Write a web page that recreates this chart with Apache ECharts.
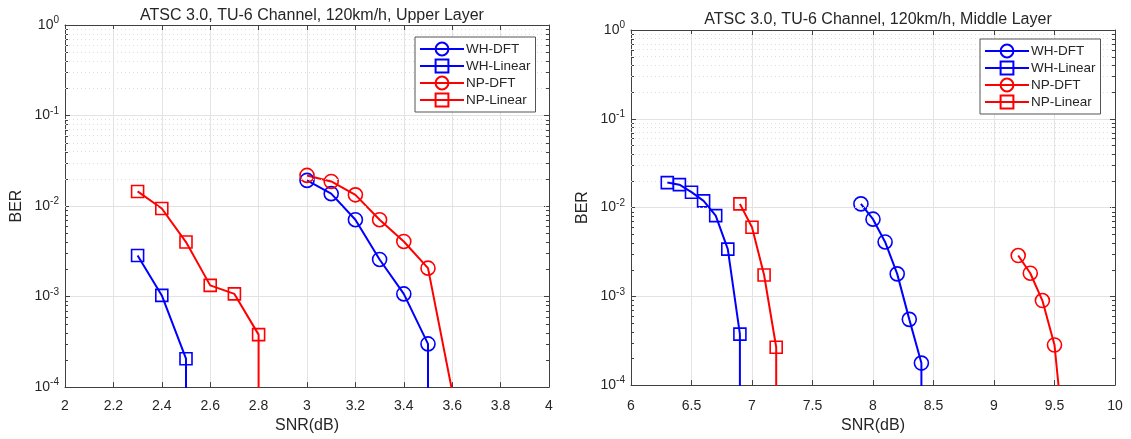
<!DOCTYPE html>
<html>
<head>
<meta charset="utf-8">
<script src="https://cdn.jsdelivr.net/npm/echarts@6/dist/echarts.min.js"></script>
<style>
html,body{margin:0;padding:0;background:#fff;}
#chart{width:1131px;height:439px;}
</style>
</head>
<body>
<div id="chart"></div>
<script>
// ---------- data (BER of 0 = no errors; drawn as a drop off the bottom of the log axis) ----------
const seriesNames = ['WH-DFT', 'WH-Linear', 'NP-DFT', 'NP-Linear'];
const titles = ['ATSC 3.0, TU-6 Channel, 120km/h, Upper Layer', 'ATSC 3.0, TU-6 Channel, 120km/h, Middle Layer'];

// Upper layer
const upperWHDFT_SNR = [3.0, 3.1, 3.2, 3.3, 3.4, 3.5, 3.5];
const upperWHDFT_BER = [0.0192, 0.0137, 0.00706, 0.00257, 0.00107, 0.0003, 0];
const upperWHLin_SNR = [2.3, 2.4, 2.5, 2.5];
const upperWHLin_BER = [0.00284, 0.00103, 0.000206, 0];
const upperNPDFT_SNR = [3.0, 3.1, 3.2, 3.3, 3.4, 3.5, 3.6];
const upperNPDFT_BER = [0.0218, 0.0187, 0.0133, 0.00706, 0.00406, 0.00206, 0.00009];
const upperNPLin_SNR = [2.3, 2.4, 2.5, 2.6, 2.7, 2.8, 2.8];
const upperNPLin_BER = [0.0145, 0.0094, 0.0040, 0.00133, 0.00107, 0.00038, 0];

// Middle layer
const midWHDFT_SNR = [7.9, 8.0, 8.1, 8.2, 8.3, 8.4, 8.4];
const midWHDFT_BER = [0.011, 0.0074, 0.0041, 0.00179, 0.00055, 0.000177, 0];
const midWHLin_SNR = [6.3, 6.4, 6.5, 6.6, 6.7, 6.8, 6.9, 6.9];
const midWHLin_BER = [0.0191, 0.0181, 0.0149, 0.0119, 0.0081, 0.0034, 0.000375, 0];
const midNPDFT_SNR = [9.2, 9.3, 9.4, 9.5, 9.6];
const midNPDFT_BER = [0.00288, 0.00182, 0.000896, 0.000283, 0.000012];
const midNPLin_SNR = [6.9, 7.0, 7.1, 7.2, 7.2];
const midNPLin_BER = [0.011, 0.006, 0.00174, 0.000267, 0];

// axes
const yMin = 1e-4, yMax = 1;
const upperX = {min: 2, max: 4, interval: 0.2};
const midX = {min: 6, max: 10, interval: 0.5};

// ---------- build ----------
const FONT = '"Liberation Sans", Arial, Helvetica, sans-serif';
const TXT = '#262626';
const AXC = '#404040';
const BLUE = '#0000ff', RED = '#ff0000';
const FLOOR = 1e-9;

function pts(xs, ys) {
  return xs.map((x, i) => {
    const y = ys[i] > 0 ? ys[i] : FLOOR;
    return y < yMin ? {value: [x, y], symbol: 'none'} : {value: [x, y]};
  });
}

// minor log grid values (2..9 per decade)
const minorVals = [];
for (let d = -4; d < 0; d++) for (let m = 2; m <= 9; m++) minorVals.push(m * Math.pow(10, d));

function mkSeries(name, xs, ys, color, sym, gi) {
  return {
    name: name, type: 'line', xAxisIndex: gi * 2, yAxisIndex: gi * 2,
    data: pts(xs, ys), symbol: sym, symbolSize: sym === 'circle' ? 14 : 12,
    clip: true, animation: false,
    lineStyle: {color: color, width: 2},
    itemStyle: {color: 'rgba(255,255,255,0)', borderColor: color, borderWidth: 1.6},
    emphasis: {disabled: true}, z: 3
  };
}

const grids = [
  {left: 65, top: 25, width: 484, height: 363},
  {left: 631, top: 30, width: 484, height: 360}
];
const xRanges = [upperX, midX];

function supLabel(v) {
  const e = Math.round(Math.log10(v));
  return '10{sup|' + e + '}';
}
const rich = {sup: {fontSize: 10, fontFamily: FONT, color: TXT, padding: [0, 0, 9, 0]}};

const xAxes = [], yAxes = [];
xRanges.forEach((xr, gi) => {
  xAxes.push({
    type: 'value', gridIndex: gi, position: 'bottom', min: xr.min, max: xr.max, interval: xr.interval,
    name: 'SNR(dB)', nameLocation: 'middle', nameGap: gi === 0 ? 27 : 31,
    nameTextStyle: {fontFamily: FONT, fontSize: 16, color: TXT},
    axisLine: {show: true, onZero: false, lineStyle: {color: AXC, width: 1}},
    axisTick: {show: true, inside: true, length: 5, lineStyle: {color: AXC}},
    axisLabel: {fontFamily: FONT, fontSize: 14, color: TXT, margin: gi === 0 ? 12 : 14},
    splitLine: {show: true, lineStyle: {color: '#e3e3e3', width: 1}}
  });
  xAxes.push({
    type: 'value', gridIndex: gi, position: 'top', min: xr.min, max: xr.max, interval: xr.interval,
    axisLine: {show: true, onZero: false, lineStyle: {color: AXC, width: 1}},
    axisTick: {show: true, inside: true, length: 5, lineStyle: {color: AXC}},
    axisLabel: {show: false}, splitLine: {show: false}
  });
  yAxes.push({
    type: 'log', logBase: 10, gridIndex: gi, position: 'left', min: yMin, max: yMax,
    name: 'BER', nameLocation: 'middle', nameGap: 40,
    nameTextStyle: {fontFamily: FONT, fontSize: 16, color: TXT},
    axisLine: {show: true, onZero: false, lineStyle: {color: AXC, width: 1}},
    axisTick: {show: true, inside: true, length: 5, lineStyle: {color: AXC}},
    axisLabel: {fontFamily: FONT, fontSize: 14, color: TXT, margin: 6, formatter: supLabel, rich: rich},
    splitLine: {show: true, lineStyle: {color: '#e3e3e3', width: 1}}
  });
  yAxes.push({
    type: 'log', logBase: 10, gridIndex: gi, position: 'right', min: yMin, max: yMax,
    axisLine: {show: true, onZero: false, lineStyle: {color: AXC, width: 1}},
    axisTick: {show: true, inside: true, length: 5, lineStyle: {color: AXC}},
    axisLabel: {show: false}, splitLine: {show: false}
  });
});

function gridDecor(gi) {
  return {
    type: 'line', xAxisIndex: gi * 2, yAxisIndex: gi * 2, data: [], silent: true, animation: false,
    markLine: {
      silent: true, symbol: 'none', animation: false, label: {show: false},
      lineStyle: {color: '#dedede', type: [1, 3], width: 1},
      data: minorVals.map(v => ({yAxis: v}))
    }
  };
}

// minor tick marks on the left and right box edges
function minorTicks(gi) {
  const xr = xRanges[gi];
  return {
    type: 'custom', xAxisIndex: gi * 2, yAxisIndex: gi * 2, silent: true, animation: false, clip: false, z: 4,
    data: minorVals.map(v => [xr.min, v]),
    renderItem: function (params, api) {
      const yv = api.value(1);
      const pL = api.coord([xr.min, yv]);
      const pR = api.coord([xr.max, yv]);
      const st = {stroke: AXC, lineWidth: 1};
      return {type: 'group', children: [
        {type: 'line', shape: {x1: pL[0], y1: Math.round(pL[1]) + 0.5, x2: pL[0] + 3, y2: Math.round(pL[1]) + 0.5}, style: st},
        {type: 'line', shape: {x1: pR[0] - 3, y1: Math.round(pR[1]) + 0.5, x2: pR[0], y2: Math.round(pR[1]) + 0.5}, style: st}
      ]};
    }
  };
}

const series = [
  gridDecor(0), gridDecor(1), minorTicks(0), minorTicks(1),
  mkSeries('WH-DFT', upperWHDFT_SNR, upperWHDFT_BER, BLUE, 'circle', 0),
  mkSeries('WH-Linear', upperWHLin_SNR, upperWHLin_BER, BLUE, 'rect', 0),
  mkSeries('NP-DFT', upperNPDFT_SNR, upperNPDFT_BER, RED, 'circle', 0),
  mkSeries('NP-Linear', upperNPLin_SNR, upperNPLin_BER, RED, 'rect', 0),
  mkSeries('WH-DFT', midWHDFT_SNR, midWHDFT_BER, BLUE, 'circle', 1),
  mkSeries('WH-Linear', midWHLin_SNR, midWHLin_BER, BLUE, 'rect', 1),
  mkSeries('NP-DFT', midNPDFT_SNR, midNPDFT_BER, RED, 'circle', 1),
  mkSeries('NP-Linear', midNPLin_SNR, midNPLin_BER, RED, 'rect', 1)
];

function mkLegend(left, top) {
  return {
    orient: 'vertical', left: left, top: top, data: seriesNames,
    itemWidth: 44, itemHeight: 16, itemGap: 1,
    padding: [4, 5, 4, 4], borderColor: '#555', borderWidth: 1, backgroundColor: '#fff',
    textStyle: {fontFamily: FONT, fontSize: 13.5, lineHeight: 16, color: TXT, padding: [0, 0, 0, -3]},
    selectedMode: false, z: 10
  };
}

const chart = echarts.init(document.getElementById('chart'), null, {renderer: 'canvas'});
chart.setOption({
  backgroundColor: '#fff',
  animation: false,
  title: [
    {text: titles[0], left: 307, top: 3, textAlign: 'center', textStyle: {fontFamily: FONT, fontSize: 16, fontWeight: 'normal', color: TXT}},
    {text: titles[1], left: 873, top: 7, textAlign: 'center', textStyle: {fontFamily: FONT, fontSize: 16, fontWeight: 'normal', color: TXT}}
  ],
  grid: grids,
  xAxis: xAxes,
  yAxis: yAxes,
  legend: [mkLegend(415, 37), mkLegend(980, 39)],
  series: series
});
</script>
</body>
</html>
